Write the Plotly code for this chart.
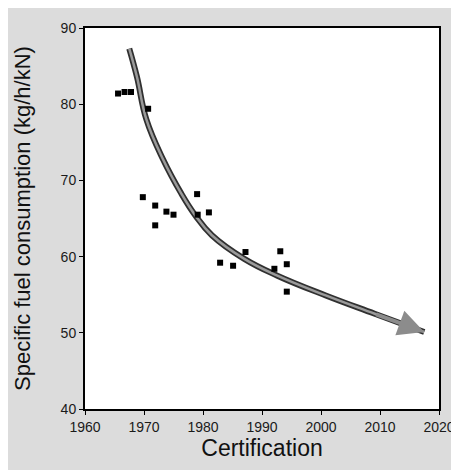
import plotly.graph_objects as go

# Engine data points (certification year, SFC kg/h/kN)
years = [1965.6, 1966.7, 1967.8, 1970.7, 1969.8, 1971.9, 1973.8, 1975.0, 1971.9,
         1979.0, 1979.1, 1981.0, 1982.9, 1985.1, 1987.2, 1993.1, 1994.2, 1992.1, 1994.2]
sfc = [81.4, 81.6, 81.6, 79.4, 67.8, 66.7, 65.9, 65.5, 64.1,
       68.2, 65.5, 65.8, 59.2, 58.8, 60.6, 60.7, 59.0, 58.4, 55.4]

# Trend arrow
trend_x = [1967.5, 1968.8, 1970.4, 1973.2, 1976.3, 1978.7, 1981.5, 1987.0, 1992.6, 2000.8, 2009.1, 2017.5]
trend_y = [87.3, 83.6, 78.0, 72.8, 68.3, 65.4, 62.8, 59.7, 57.5, 54.9, 52.5, 50.1]

x_ticks = [1960, 1970, 1980, 1990, 2000, 2010, 2020]
y_ticks = [40, 50, 60, 70, 80, 90]

fig = go.Figure()
fig.add_trace(go.Scatter(x=trend_x, y=trend_y, mode="lines",
                         line=dict(color="#303030", width=6, shape="spline", smoothing=1.2),
                         hoverinfo="skip", showlegend=False))
fig.add_trace(go.Scatter(x=trend_x, y=trend_y, mode="lines",
                         line=dict(color="#9a9a9a", width=2.5, shape="spline", smoothing=1.2),
                         hoverinfo="skip", showlegend=False))
fig.add_trace(go.Scatter(x=years, y=sfc, mode="markers",
                         marker=dict(symbol="square", size=6, color="black"),
                         showlegend=False))

fig.add_annotation(x=trend_x[-1], y=trend_y[-1], ax=trend_x[-2], ay=trend_y[-2],
                   xref="x", yref="y", axref="x", ayref="y", text="",
                   showarrow=True, arrowhead=2, arrowsize=1.3, arrowwidth=4,
                   arrowcolor="#8c8c8c")

font = "Liberation Sans, Arial, sans-serif"
fig.update_layout(
    width=459, height=470,
    margin=dict(l=77, r=20, t=18, b=69),
    paper_bgcolor="#dcdcdc", plot_bgcolor="white",
    font=dict(family=font, color="#1a1a1a"),
    xaxis=dict(range=[1960, 2020], tickvals=x_ticks, ticks="outside", ticklen=4,
               tickcolor="black", showgrid=False, zeroline=False,
               showline=True, linecolor="black", linewidth=2, mirror=True,
               tickfont=dict(size=14),
               title=dict(text="Certification", font=dict(size=23, color="#111"), standoff=0)),
    yaxis=dict(range=[40, 90], tickvals=y_ticks, ticks="outside", ticklen=4,
               tickcolor="black", showgrid=False, zeroline=False,
               showline=True, linecolor="black", linewidth=2, mirror=True,
               tickfont=dict(size=14),
               title=dict(text="Specific fuel consumption (kg/h/kN)",
                          font=dict(size=22, color="#111"), standoff=24)),
)

fig.write_html("out.html")
